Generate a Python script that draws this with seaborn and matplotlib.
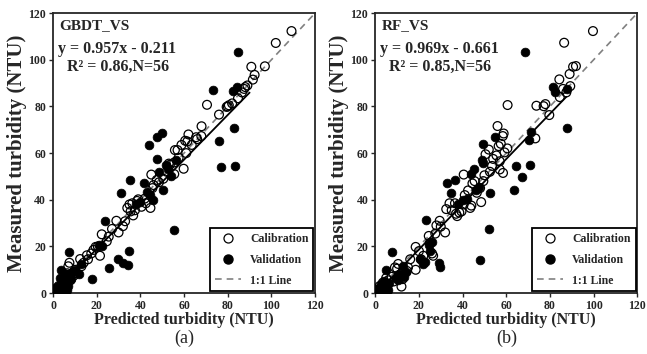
import numpy as np
import pandas as pd
import matplotlib
matplotlib.use("Agg")
import matplotlib.pyplot as plt
import seaborn as sns
from matplotlib.lines import Line2D

# panel (a) GBDT_VS
gbdt_cal_pred = [109.2, 102.0, 97.0, 90.8, 92.3, 91.5, 89.0, 88.0, 84.7, 82.0, 80.0, 80.5, 79.5, 70.5, 76.0,
                 68.0, 67.9, 65.5, 62.0, 61.5, 60.5, 58.8, 57.0, 55.8, 61.0, 59.8, 55.5, 55.5, 53.5, 52.0,
                 45.0, 48.5, 46.0, 45.5, 44.6, 42.5, 40.5, 39.0, 38.5, 36.3, 35.0, 34.0, 36.7, 35.5, 33.0,
                 32.0, 30.0, 25.5, 22.3, 24.6, 21.5, 19.5, 20.5, 17.5, 16.0, 15.5, 13.0, 12.4, 10.0, 9.5,
                 7.5, 7.0, 6.5, 5.5, 4.5, 3.5, 2.5, 2.0, 1.5, 1.0, 0.5, 6.0, 8.0, 11.0, 14.0, 18.5, 27.0,
                 29.0, 37.5, 42.0, 47.5, 50.5, 53.0, 57.5, 63.5, 66.0, 86.5, 87.5]
gbdt_cal_meas = [112.3, 107.2, 97.2, 97.0, 93.5, 91.5, 89.0, 88.3, 83.5, 81.3, 80.0, 80.5, 79.8, 80.7, 76.5,
                 71.5, 67.3, 66.8, 68.0, 65.0, 65.3, 63.5, 61.3, 61.3, 60.0, 53.3, 51.0, 56.0, 55.0, 52.0,
                 50.8, 47.5, 46.3, 45.0, 36.5, 38.5, 37.0, 40.2, 39.5, 38.5, 38.0, 36.5, 33.3, 35.0, 30.8,
                 28.7, 26.0, 24.2, 25.2, 22.2, 16.0, 19.8, 20.0, 17.0, 14.5, 16.2, 11.5, 14.6, 10.0, 7.5,
                 13.0, 11.5, 8.5, 6.0, 4.5, 2.5, 3.0, 1.0, 2.0, 1.0, 0.5, 3.5, 5.5, 8.5, 13.0, 18.5, 27.5,
                 31.0, 35.5, 40.5, 48.5, 49.0, 55.5, 58.0, 63.5, 66.0, 86.0, 87.5]
gbdt_val_pred = [84.7, 73.4, 82.5, 84.3, 82.9, 76.0, 77.0, 83.3, 43.8, 47.6, 50.1, 47.5, 51.7, 56.5, 41.5,
                 35.1, 31.1, 45.6, 50.3, 43.0, 44.5, 55.4, 24.0, 21.2, 34.6, 29.6, 31.9, 34.5, 25.6, 17.8,
                 7.1, 3.6, 52.5, 54.0, 48.5, 38.0, 40.0, 22.5, 13.0, 10.0, 8.0, 7.0, 6.0, 5.0, 4.5, 3.0,
                 2.5, 2.0, 1.5, 1.0, 6.5, 5.5, 8.5, 12.0, 3.0, 4.0]
gbdt_val_meas = [103.3, 87.0, 86.8, 88.2, 70.6, 65.2, 54.2, 54.6, 63.3, 66.8, 68.8, 57.5, 54.9, 57.0, 47.3,
                 48.4, 43.0, 40.0, 44.1, 43.5, 42.0, 27.2, 30.9, 20.5, 18.0, 14.6, 12.7, 11.9, 10.9, 6.1,
                 17.5, 9.8, 53.0, 50.0, 52.0, 38.0, 39.0, 20.0, 12.5, 10.0, 6.0, 3.0, 8.0, 5.0, 2.0, 3.5,
                 1.5, 2.5, 1.0, 0.5, 1.5, 3.5, 9.0, 8.0, 6.5, 1.0]

# panel (b) RF_VS
rf_cal_pred = [99.7, 86.5, 91.9, 90.6, 89.0, 84.3, 89.3, 84.5, 86.0, 77.9, 77.1, 79.7, 73.8, 60.6, 56.0,
               58.8, 58.4, 73.3, 57.5, 56.5, 52.0, 59.2, 55.5, 54.0, 57.0, 50.5, 58.5, 57.0, 52.5, 50.0,
               49.5, 48.0, 45.5, 44.5, 40.5, 48.5, 44.0, 43.5, 41.0, 40.5, 39.5, 38.5, 36.5, 37.5, 37.0,
               34.0, 32.5, 32.0, 29.5, 28.0, 27.5, 24.5, 26.5, 26.0, 25.0, 22.0, 21.0, 18.5, 18.5, 16.0,
               15.0, 14.5, 12.0, 10.5, 10.0, 9.0, 8.5, 7.5, 6.0, 5.0, 4.0, 3.5, 2.5, 2.0, 1.5, 1.0, 0.5,
               12.5, 20.0, 30.0, 35.0, 42.5, 46.5, 53.5, 60.5, 87.5]
rf_cal_meas = [112.3, 107.3, 97.3, 97.0, 93.9, 91.6, 88.7, 84.0, 87.5, 81.0, 80.1, 76.3, 80.3, 80.6, 71.6,
               68.4, 67.3, 66.3, 64.0, 63.0, 61.5, 60.3, 59.0, 57.5, 56.5, 59.5, 51.5, 53.0, 52.0, 50.5,
               48.0, 45.0, 48.0, 47.0, 50.8, 39.0, 37.5, 36.5, 42.0, 38.0, 35.0, 34.5, 38.5, 33.0, 34.0,
               38.5, 36.0, 26.0, 31.0, 29.0, 25.5, 24.5, 16.0, 17.0, 21.5, 16.0, 14.5, 19.8, 10.0, 14.5,
               11.0, 9.5, 2.8, 12.5, 10.5, 11.0, 5.0, 7.0, 5.5, 6.5, 3.5, 4.5, 2.0, 3.0, 1.0, 1.5, 0.5,
               6.0, 18.0, 28.5, 35.5, 44.0, 43.0, 54.5, 62.0, 86.0]
rf_val_pred = [68.7, 81.5, 82.1, 87.8, 87.8, 71.3, 70.3, 49.3, 55.0, 64.3, 71.0, 67.2, 63.4, 51.9, 47.8,
               52.4, 45.1, 44.0, 48.9, 49.3, 32.7, 36.4, 34.7, 40.0, 38.0, 42.0, 46.0, 47.5, 23.4, 7.6,
               5.0, 24.5, 25.0, 29.0, 29.5, 22.0, 20.5, 23.0, 12.5, 11.0, 10.5, 9.5, 13.0, 6.5, 5.5, 5.0,
               4.0, 3.5, 3.0, 2.5, 2.0, 1.5, 1.0, 6.0, 14.0, 26.0]
rf_val_meas = [103.4, 88.2, 86.3, 87.3, 70.6, 69.1, 65.6, 63.9, 67.0, 54.4, 54.9, 49.9, 44.4, 27.3, 14.4,
               43.0, 53.4, 51.0, 57.0, 55.6, 47.3, 48.4, 43.0, 40.0, 38.0, 40.5, 44.0, 45.5, 31.3, 17.7,
               9.9, 20.6, 18.0, 12.7, 11.0, 12.5, 14.5, 13.5, 11.5, 8.0, 5.5, 6.5, 7.0, 4.5, 3.0, 2.0,
               5.0, 2.5, 1.5, 4.0, 1.0, 2.0, 0.5, 1.5, 9.0, 22.0]

panels = [
    dict(name="GBDT_VS", slope=0.957, icpt=-0.211, r2="0.86", n=56, fit_end=90,
         cal=(gbdt_cal_pred, gbdt_cal_meas), val=(gbdt_val_pred, gbdt_val_meas), tag="(a)"),
    dict(name="RF_VS", slope=0.969, icpt=-0.661, r2="0.85", n=56, fit_end=87.5,
         cal=(rf_cal_pred, rf_cal_meas), val=(rf_val_pred, rf_val_meas), tag="(b)"),
]

sns.set_style("ticks")
plt.rcParams['font.family'] = ['Liberation Serif', 'DejaVu Serif']
plt.rcParams['font.weight'] = 'bold'

fig = plt.figure(figsize=(6.47, 3.54), dpi=100)
lefts = [0.082, 0.580]

for p, left in zip(panels, lefts):
    ax = fig.add_axes([left, 0.172, 0.405, 0.791])
    cal = pd.DataFrame({"pred": p["cal"][0], "meas": p["cal"][1]})
    val = pd.DataFrame({"pred": p["val"][0], "meas": p["val"][1]})

    ax.plot([0, 120], [0, 120], ls=(0, (4, 3)), color="#808080", lw=1.2, zorder=1)
    xs = np.array([0, p["fit_end"]])
    ax.plot(xs, p["slope"] * xs + p["icpt"], color="black", lw=1.3, zorder=2)

    sns.scatterplot(data=cal, x="pred", y="meas", ax=ax, marker="o", s=40,
                    facecolor="none", edgecolor="black", linewidth=0.9, zorder=3)
    sns.scatterplot(data=val, x="pred", y="meas", ax=ax, marker="o", s=40,
                    color="black", edgecolor="black", linewidth=0.5, zorder=4)

    ax.set_xlim(0, 120)
    ax.set_ylim(0, 120)
    ax.set_xticks(range(0, 121, 20))
    ax.set_yticks(range(0, 121, 20))
    ax.tick_params(labelsize=8.5, length=3, width=1, pad=2)
    for lab in ax.get_xticklabels() + ax.get_yticklabels():
        lab.set_fontweight("bold")
    for sp in ax.spines.values():
        sp.set_linewidth(1.3)
        sp.set_visible(True)
    ax.set_xlabel("Predicted turbidity (NTU)", fontsize=11.5, fontweight="bold", labelpad=0)
    ax.set_ylabel("Measured turbidity (NTU)", fontsize=15, fontweight="bold", labelpad=1)

    ax.text(0.025, 0.957, p["name"], transform=ax.transAxes, fontsize=11,
            fontweight="bold", va="center", ha="left")
    ax.text(0.018, 0.871, f"y = {p['slope']}x - {abs(p['icpt'])}", transform=ax.transAxes,
            fontsize=11.5, fontweight="bold", va="center", ha="left")
    ax.text(0.053, 0.807, f"R² = {p['r2']},N={p['n']}", transform=ax.transAxes,
            fontsize=11.5, fontweight="bold", va="center", ha="left")

    handles = [
        Line2D([], [], marker="o", ls="", mfc="none", mec="black", ms=6.5, mew=0.9),
        Line2D([], [], marker="o", ls="", mfc="black", mec="black", ms=6.5),
        Line2D([], [], ls=(0, (4, 3)), color="#808080", lw=1.2),
    ]
    leg = ax.legend(handles, ["Calibration", "Validation", "1:1 Line"], loc="lower right",
                    fancybox=False, edgecolor="black", framealpha=1, borderaxespad=0.15,
                    prop={"weight": "bold", "size": 8.5}, handlelength=2.2, handletextpad=0.8,
                    labelspacing=0.75, borderpad=0.4)
    leg.get_frame().set_linewidth(1.3)

    fig.text(left + 0.405 / 2, 0.045, p["tag"], ha="center", va="center",
             fontsize=13, fontweight="normal")

fig.savefig("out.png", dpi=100)
